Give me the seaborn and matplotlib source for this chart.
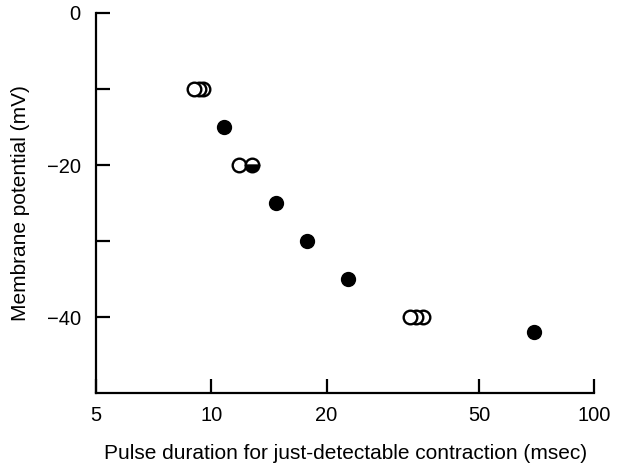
import matplotlib
matplotlib.use("Agg")
import matplotlib.pyplot as plt
import seaborn as sns
import pandas as pd
from matplotlib.ticker import FixedLocator, NullFormatter, FixedFormatter

sns.set_theme(style="ticks")
plt.rcParams['font.family'] = ['Liberation Sans', 'DejaVu Sans']

# Data
open_x = [9.5, 9.3, 9.0, 11.8, 35.7, 34.3, 33.0]
open_y = [-10, -10, -10, -20, -40, -40, -40]
filled_x = [10.8, 14.8, 17.8, 22.8, 69.7]
filled_y = [-15, -25, -30, -35, -42]
half_x = [12.8]
half_y = [-20]

x_ticks = [5, 10, 20, 50, 100]
x_ticklabels = ["5", "10", "20", "50", "100"]
y_major = [0, -20, -40]
y_minor = [-10, -30]
y_ticklabels = ["0", "\u221220", "\u221240"]

fig = plt.figure(figsize=(6.19, 4.63), dpi=100)
ax = fig.add_axes([0.155, 0.151, 0.805, 0.821])
ax.set_xscale("log")

df_filled = pd.DataFrame({"x": filled_x, "y": filled_y})

ms = 9.8
for i, (x, y) in enumerate(zip(open_x, open_y)):
    ax.plot([x], [y], marker="o", linestyle="none", markersize=ms,
            markerfacecolor="white", markeredgecolor="black",
            markeredgewidth=1.7, zorder=3 + i * 0.01, clip_on=False)
sns.scatterplot(data=df_filled, x="x", y="y", ax=ax, color="black",
                s=ms ** 2, edgecolor="black", linewidth=1.2, zorder=4)
ax.plot(half_x, half_y, marker="o", linestyle="none", markersize=ms,
        fillstyle="bottom", markerfacecolor="black",
        markerfacecoloralt="white", markeredgecolor="black",
        markeredgewidth=1.7, zorder=4)

ax.set_xlim(5, 100)
ax.set_ylim(-50, 0)

ax.xaxis.set_major_locator(FixedLocator(x_ticks))
ax.xaxis.set_major_formatter(FixedFormatter(x_ticklabels))
ax.xaxis.set_minor_locator(FixedLocator([]))
ax.xaxis.set_minor_formatter(NullFormatter())
ax.yaxis.set_major_locator(FixedLocator(y_major))
ax.yaxis.set_major_formatter(FixedFormatter(y_ticklabels))
ax.yaxis.set_minor_locator(FixedLocator(y_minor))

ax.tick_params(axis="both", which="both", direction="in", length=10,
               width=1.6, color="black", labelsize=14.5, labelcolor="black")
ax.tick_params(axis="y", which="both", pad=11)
ax.tick_params(axis="x", which="both", pad=9)

for s in ["top", "right"]:
    ax.spines[s].set_visible(False)
for s in ["left", "bottom"]:
    ax.spines[s].set_linewidth(1.6)
    ax.spines[s].set_color("black")

ax.set_xlabel("Pulse duration for just-detectable contraction (msec)",
              fontsize=15, color="black", labelpad=14)
ax.set_ylabel("Membrane potential (mV)", fontsize=15, color="black",
              labelpad=12)

fig.savefig("out.png", dpi=100)
